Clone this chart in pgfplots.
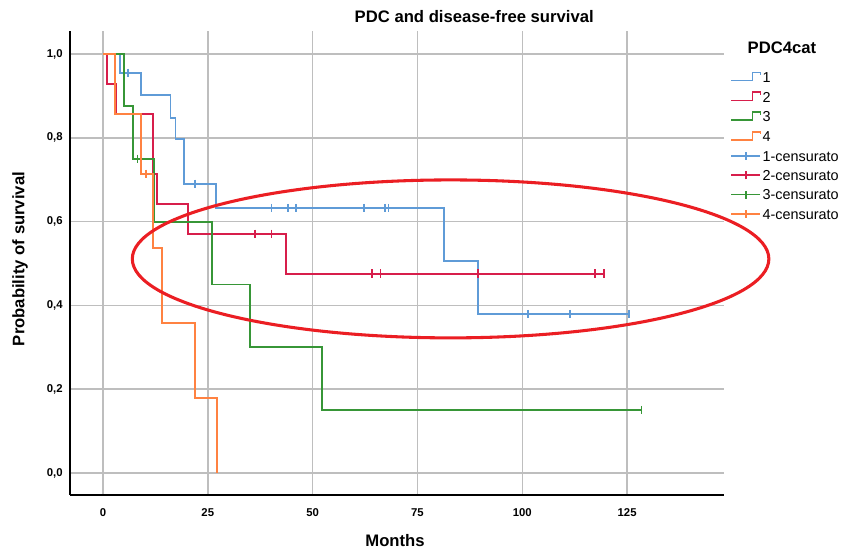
\documentclass[border=0pt]{standalone}
\usepackage{fontspec}
\setmainfont{Liberation Sans}
\usepackage{pgfplots}
\pgfplotsset{compat=1.18}

\definecolor{cblue}{RGB}{95,155,215}
\definecolor{cred}{RGB}{215,30,75}
\definecolor{cgreen}{RGB}{55,150,55}
\definecolor{corange}{RGB}{255,130,65}
\definecolor{ellred}{RGB}{235,30,35}
\definecolor{gridgray}{RGB}{190,190,190}

\pgfplotsset{
  kmstep/.style={legend image code/.code={%
    \draw[line width=1.2pt] (0pt,-2.6pt) -- (16pt,-2.6pt) -- (16pt,3.6pt) -- (22pt,3.6pt) -- (22pt,1.6pt);}},
  kmcens/.style={legend image code/.code={%
    \draw[line width=1.2pt] (0pt,0pt) -- (22pt,0pt);
    \draw[line width=1.2pt] (11pt,-3pt) -- (11pt,3pt);}},
}

\begin{document}
\begin{tikzpicture}
\path[use as bounding box] (-52.5pt,-45pt) rectangle (579.75pt,371.25pt);
\begin{axis}[
    scale only axis,
    width=490.5pt,
    height=348pt,
    xmin=-7.86, xmax=148.1,
    ymin=-0.0525, ymax=1.055,
    axis x line*=bottom,
    axis y line*=left,
    axis line style={-, black, line width=1.4pt},
    xtick={0,25,50,75,100,125},
    ytick={0,0.2,0.4,0.6,0.8,1},
    grid=major,
    major grid style={gridgray, line width=1.1pt},
    tick style={draw=none},
    ticklabel style={font=\bfseries\fontsize{8.5}{10}\selectfont},
    /pgf/number format/assume math mode=true,
    yticklabel style={/pgf/number format/fixed, /pgf/number format/fixed zerofill,
        /pgf/number format/precision=1, /pgf/number format/use comma, xshift=-2pt},
    xticklabel style={yshift=-7pt},
    xlabel={Months},
    ylabel={Probability of survival},
    label style={font=\bfseries\fontsize{12.5}{15}\selectfont},
    xlabel style={at={(axis description cs:0.497,-0.0991)}, anchor=center},
    ylabel style={at={(axis description cs:-0.0765,0.5086)}, anchor=center},
    clip=false,
    legend cell align=left,
    legend style={at={(1.0092,0.913)}, anchor=north west, draw=none, fill=none,
        inner sep=0pt, row sep=6.8pt, column sep=0pt,
        font=\fontsize{10.8}{13}\selectfont,
        nodes={inner xsep=1pt, inner ysep=0pt, text height=7.7pt, text depth=0pt}},
]

% Kaplan-Meier steps
\addplot[const plot, cblue, line width=1.4pt, kmstep] coordinates {
(0,1) (4,0.955) (9,0.903) (16.1,0.848) (17.3,0.797) (19.3,0.690)
(27,0.632) (81.4,0.506) (89.4,0.379) (125.5,0.379)};
\addplot[const plot, cred, line width=1.4pt, kmstep] coordinates {
(0,1) (0.9,0.929) (3.1,0.857) (12,0.714) (12.8,0.643) (20.2,0.571)
(43.7,0.476) (119.5,0.476)};
\addplot[const plot, cgreen, line width=1.4pt, kmstep] coordinates {
(0,1) (5.1,0.875) (7.1,0.75) (12.2,0.6) (26,0.45) (35,0.3)
(52.2,0.15) (128.4,0.15)};
\addplot[const plot, corange, line width=1.4pt, kmstep] coordinates {
(0,1) (2.9,0.857) (9,0.714) (12,0.536) (14.1,0.357) (22,0.179) (27.2,0)};

% censored
\addplot[only marks, cblue, mark=|, mark size=3.2pt, mark options={line width=1.2pt}, kmcens] coordinates {
(6,0.955) (22,0.690) (40.2,0.632) (44.1,0.632) (46.1,0.632) (62.2,0.632)
(67.3,0.632) (68.1,0.632) (101.3,0.379) (111.4,0.379) (125.5,0.379)};
\addplot[only marks, cred, mark=|, mark size=3.2pt, mark options={line width=1.2pt}, kmcens] coordinates {
(36.2,0.571) (40.2,0.571) (64.2,0.476) (66.2,0.476) (89.4,0.476)
(117.4,0.476) (119.5,0.476)};
\addplot[only marks, cgreen, mark=|, mark size=3.2pt, mark options={line width=1.2pt}, kmcens] coordinates {
(8.2,0.75) (128.4,0.15)};
\addplot[only marks, corange, mark=|, mark size=3.2pt, mark options={line width=1.2pt}, kmcens] coordinates {
(10.2,0.714)};

\legend{1,2,3,4,1-censurato,2-censurato,3-censurato,4-censurato}

% annotation
\draw[ellred, line width=2.3pt] (axis cs:82.9,0.511) ellipse [x radius=75.9, y radius=0.1885];
\end{axis}
\node[font=\bfseries\fontsize{12.5}{15}\selectfont, anchor=west] at (210pt,358.5pt) {PDC and disease-free survival};
\node[font=\bfseries\fontsize{12.5}{15}\selectfont] at (534pt,335.25pt) {PDC4cat};
\end{tikzpicture}
\end{document}
